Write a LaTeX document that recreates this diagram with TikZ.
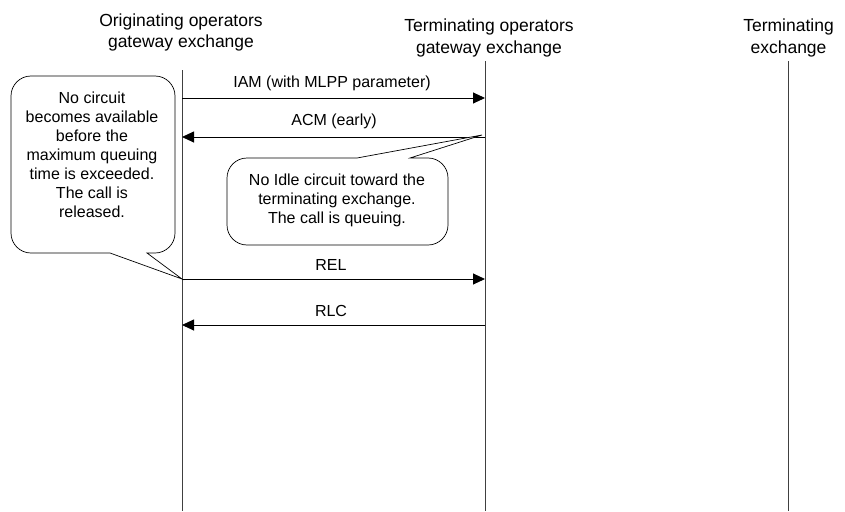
\documentclass[tikz,border=0pt]{standalone}
\usepackage{fontspec}
\setmainfont{Liberation Sans}
\usetikzlibrary{arrows.meta}
\begin{document}
\begin{tikzpicture}[x=1pt,y=-1pt,
  hdr/.style={font=\fontsize{17.5}{21}\selectfont,align=center,anchor=base,inner sep=0pt},
  lbl/.style={font=\fontsize{16}{19}\selectfont,align=center,anchor=base,inner sep=0pt},
  life/.style={draw=black!75,line width=0.9pt},
  msg/.style={draw=black,line width=0.9pt,-{Triangle[length=12pt,width=11pt]}},
  callout/.style={draw=black,line width=0.7pt,fill=white}]
\useasboundingbox (0,0) rectangle (845,511);
% lifeline endpoints
\coordinate (A0) at (182,70);  \coordinate (A1) at (182,511);
\coordinate (B0) at (485,61);  \coordinate (B1) at (485,511);
\coordinate (C0) at (788,61);  \coordinate (C1) at (788,511);
\draw[life] (A0) -- (A1);
\draw[life] (B0) -- (B1);
\draw[life] (C0) -- (C1);
% headers (base = last line)
\node[hdr] (hA) at (181,47.3) {Originating operators\\gateway exchange};
\node[hdr] (hB) at (489,53) {Terminating operators\\gateway exchange};
\node[hdr] (hC) at (788.5,53) {Terminating\\exchange};
% message points
\coordinate (iamA) at (182,98);  \coordinate (iamB) at (485,98);
\coordinate (acmA) at (182,137); \coordinate (acmB) at (485,137);
\coordinate (relA) at (182,279); \coordinate (relB) at (485,279);
\coordinate (rlcA) at (182,325); \coordinate (rlcB) at (485,325);
\draw[msg] (iamA) -- (iamB);
\draw[msg] (acmB) -- (acmA);
\draw[msg] (relA) -- (relB);
\draw[msg] (rlcB) -- (rlcA);
\node[lbl] (liam) at (332,87) {IAM (with MLPP parameter)};
\node[lbl] (lacm) at (334,125) {ACM (early)};
\node[lbl] (lrel) at (331,270) {REL};
\node[lbl] (lrlc) at (331,316) {RLC};
% left callout
\draw[callout] (147,253) -- (relA) -- (110,253) -- (31,253)
  arc[start angle=90,end angle=180,radius=20] -- (11,96)
  arc[start angle=180,end angle=270,radius=20] -- (155,76)
  arc[start angle=270,end angle=360,radius=20] -- (175,233)
  arc[start angle=0,end angle=90,radius=20] -- cycle;
\node[lbl] (tA) at (92,217) {No circuit\\becomes available\\before the\\maximum queuing\\time is exceeded.\\The call is\\released.};
% middle callout
\coordinate (tipB) at (482,135);
\draw[callout] (357,158) -- (tipB) -- (410,158) -- (428,158)
  arc[start angle=270,end angle=360,radius=20] -- (448,225)
  arc[start angle=0,end angle=90,radius=20] -- (247,245)
  arc[start angle=90,end angle=180,radius=20] -- (227,178)
  arc[start angle=180,end angle=270,radius=20] -- cycle;
\node[lbl] (tB) at (337,223) {No Idle circuit toward the\\terminating exchange.\\The call is queuing.};
\end{tikzpicture}
\end{document}
